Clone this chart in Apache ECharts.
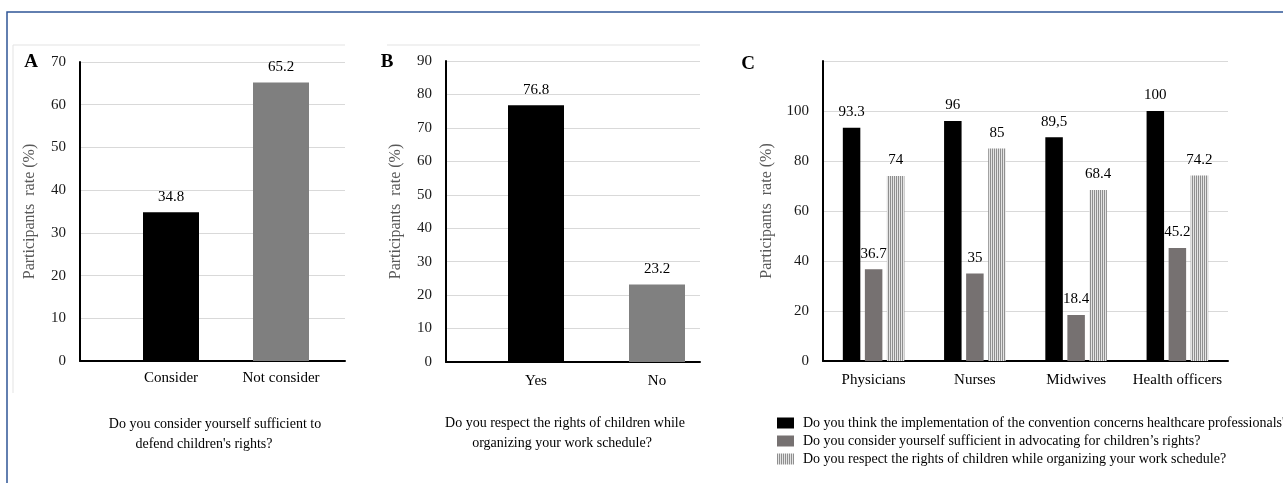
<!DOCTYPE html>
<html>
<head>
<meta charset="utf-8">
<script src="https://cdn.jsdelivr.net/npm/echarts@6/dist/echarts.min.js"></script>
<style>
html,body{margin:0;padding:0;background:#fff;}
#chart{width:1283px;height:483px;}
</style>
</head>
<body>
<div id="chart"></div>
<script>
// ---- data ----
const catsA = ['Consider', 'Not consider'];
const valsA = [34.8, 65.2];
const catsB = ['Yes', 'No'];
const valsB = [76.8, 23.2];
const catsC = ['Physicians', 'Nurses', 'Midwives', 'Health officers'];
const seriesNamesC = [
  "Do you think the implementation of the convention concerns healthcare professionals'?",
  "Do you consider yourself sufficient in advocating for children\u2019s rights?",
  "Do you respect the rights of children while organizing your work schedule?"
];
const implC = [93.3, 96, 89.5, 100];
const implLabelsC = ['93.3', '96', '89,5', '100'];
const suffC = [36.7, 35, 18.4, 45.2];
const respC = [74, 85, 68.4, 74.2];
const yTitle = 'Participants  rate (%)';
const captionA = ['Do you consider yourself sufficient to', "defend children's rights?"];
const captionB = ['Do you respect the rights of children while', 'organizing your work schedule?'];

// ---- chart ----
const FONT = '"Liberation Serif", "Times New Roman", serif';
const pc = document.createElement('canvas');
pc.width = 2; pc.height = 4;
const pctx = pc.getContext('2d');
pctx.fillStyle = '#8f8f8f'; pctx.fillRect(0, 0, 1, 4);
pctx.fillStyle = '#e4e4e4'; pctx.fillRect(1, 0, 1, 4);
const stripe = { image: pc, repeat: 'repeat' };

function axisY(gridIndex, max, interval, showMax, nameGap) {
  return {
    type: 'value', gridIndex: gridIndex, min: 0, max: max, interval: interval,
    name: yTitle, nameLocation: 'middle', nameGap: nameGap,
    nameTextStyle: { fontFamily: FONT, fontSize: 16, color: '#595959' },
    axisLine: { show: true, lineStyle: { color: '#000', width: 2 } },
    axisTick: { show: false },
    axisLabel: { fontFamily: FONT, fontSize: 15, color: '#1a1a1a', margin: 14, showMaxLabel: showMax },
    splitLine: { show: true, lineStyle: { color: '#d9d9d9', width: 1 } }
  };
}
function hiddenY(gridIndex, max) {
  return { type: 'value', gridIndex: gridIndex, min: 0, max: max, show: false, splitLine: { show: false } };
}
function baseX(gridIndex) {
  return {
    type: 'category', gridIndex: gridIndex, data: [''],
    axisLine: { show: true, lineStyle: { color: '#000', width: 2 } },
    axisTick: { show: false }, axisLabel: { show: false }, splitLine: { show: false }
  };
}
function catX(gridIndex, cats, margin, showLine) {
  return {
    type: 'category', gridIndex: gridIndex, data: cats,
    axisLine: { show: showLine, lineStyle: { color: '#000', width: 2 } },
    axisTick: { show: false },
    axisLabel: { fontFamily: FONT, fontSize: 15, color: '#000', margin: margin, interval: 0 },
    splitLine: { show: false }
  };
}
const valueLabel = { show: true, position: 'top', distance: 8, fontFamily: FONT, fontSize: 15, color: '#000' };

function textEl(x, y, txt, size, bold) {
  return { type: 'text', x: x, y: y, style: { text: txt, fontFamily: FONT, fontSize: size, fontWeight: bold ? 'bold' : 'normal', fill: '#000', align: 'center', verticalAlign: 'middle' } };
}
function lineEl(x1, y1, x2, y2, color, w) {
  return { type: 'line', shape: { x1: x1, y1: y1, x2: x2, y2: y2 }, style: { stroke: color, lineWidth: w } };
}

const chart = echarts.init(document.getElementById('chart'), null, { renderer: 'canvas' });
const option = {
  backgroundColor: '#ffffff',
  animation: false,
  grid: [
    { left: 80, width: 265, top: 62, height: 299 },      // 0 A axes
    { left: 116, width: 220, top: 62, height: 299 },     // 1 A bars
    { left: 446, width: 254, top: 61, height: 301 },     // 2 B axes
    { left: 475.5, width: 242, top: 61, height: 301 },   // 3 B bars
    { left: 823, width: 405, top: 61, height: 300 }      // 4 C
  ],
  xAxis: [
    baseX(0),
    catX(1, catsA, 10, false),
    baseX(2),
    catX(3, catsB, 12, false),
    catX(4, catsC, 12, true)
  ],
  yAxis: [
    axisY(0, 70, 10, true, 42),
    hiddenY(1, 70),
    axisY(2, 90, 10, true, 42),
    hiddenY(3, 90),
    axisY(4, 120, 20, false, 48)
  ],
  legend: {
    orient: 'vertical', left: 772, top: 411, itemWidth: 17, itemHeight: 11, itemGap: 4,
    icon: 'rect',
    data: seriesNamesC,
    textStyle: { fontFamily: FONT, fontSize: 14, color: '#000', lineHeight: 14, padding: [0, 0, 0, 4] }
  },
  series: [
    {
      name: 'A', type: 'bar', xAxisIndex: 1, yAxisIndex: 1, barWidth: 56,
      data: valsA,
      itemStyle: { color: function (p) { return p.dataIndex === 0 ? '#000000' : '#7f7f7f'; } },
      label: valueLabel
    },
    {
      name: 'B', type: 'bar', xAxisIndex: 3, yAxisIndex: 3, barWidth: 56,
      data: valsB,
      itemStyle: { color: function (p) { return p.dataIndex === 0 ? '#000000' : '#808080'; } },
      label: valueLabel
    },
    {
      name: seriesNamesC[0], type: 'bar', xAxisIndex: 4, yAxisIndex: 4,
      barWidth: 17.5, barGap: '26%', barCategoryGap: '39%',
      data: implC,
      itemStyle: { color: '#000000' },
      label: Object.assign({}, valueLabel, { formatter: function (p) { return implLabelsC[p.dataIndex]; } })
    },
    {
      name: seriesNamesC[1], type: 'bar', xAxisIndex: 4, yAxisIndex: 4,
      barWidth: 17.5, barGap: '26%',
      data: suffC,
      itemStyle: { color: '#767171' },
      label: valueLabel
    },
    {
      name: seriesNamesC[2], type: 'bar', xAxisIndex: 4, yAxisIndex: 4,
      barWidth: 17.5, barGap: '26%',
      data: respC,
      itemStyle: { color: stripe },
      label: valueLabel
    }
  ],
  graphic: [
    { type: 'rect', shape: { x: 7, y: 12, width: 1400, height: 600 }, style: { fill: null, stroke: '#2f5597', lineWidth: 1.5 }, z: 100 },
    lineEl(13, 45, 345, 45, '#e3e3e3', 1),
    lineEl(13, 45, 13, 393, '#e3e3e3', 1),
    lineEl(387, 45, 700, 45, '#e3e3e3', 1),
    textEl(31, 62, 'A', 19, true),
    textEl(387, 62, 'B', 19, true),
    textEl(748, 64, 'C', 19, true),
    textEl(215, 424, captionA[0], 14, false),
    textEl(204, 444, captionA[1], 14, false),
    textEl(565, 423, captionB[0], 14, false),
    textEl(562, 443, captionB[1], 14, false)
  ]
};
chart.setOption(option);
</script>
</body>
</html>
